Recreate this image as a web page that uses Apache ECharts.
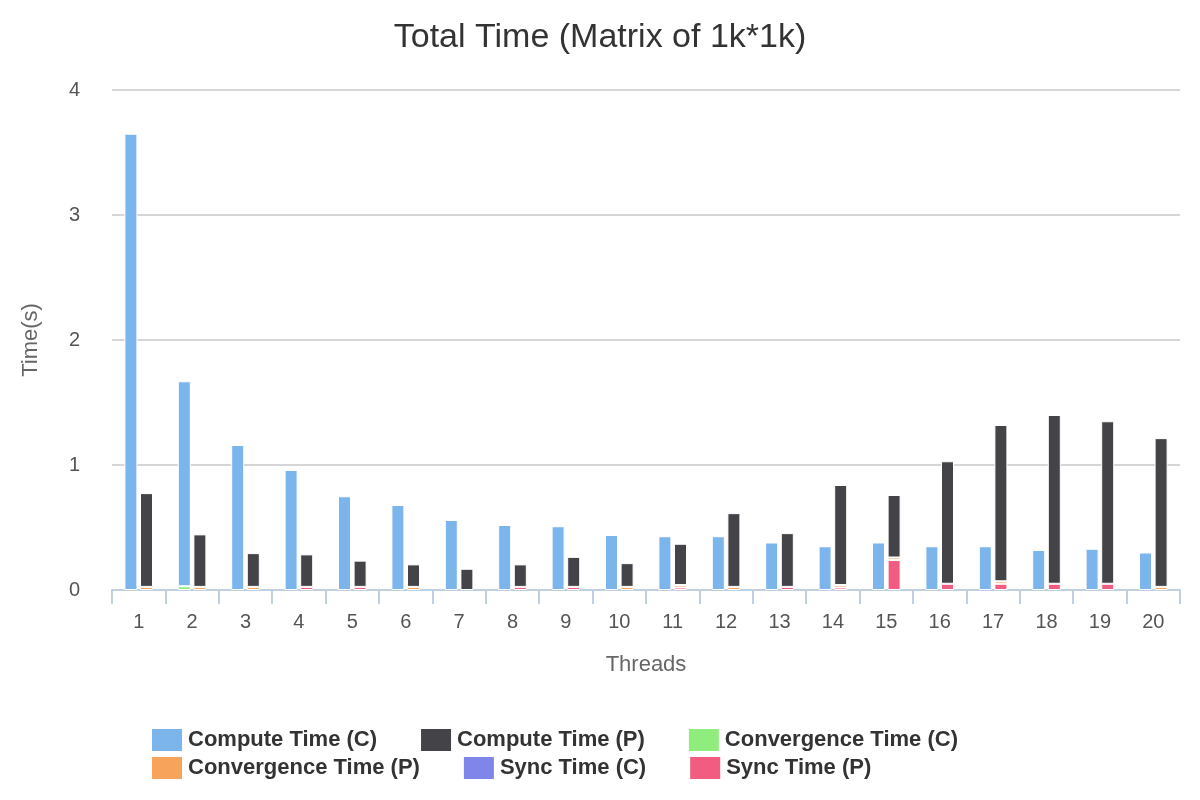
<!DOCTYPE html>
<html style="height: 100%">
<head>
    <meta charset="utf-8">
    <script src="https://cdn.jsdelivr.net/npm/echarts@6/dist/echarts.min.js"></script>
    <title>Total Time</title>
</head>
<body style="height: 100%; margin: 0; background: #fff">
<div id="container" style="width: 1200px; height: 800px"></div>
<script>
    let threads = ['1','2','3','4','5','6','7','8','9','10','11','12','13','14','15','16','17','18','19','20'];
    let computeC = [3.65, 1.64, 1.16, 0.96, 0.75, 0.68, 0.56, 0.52, 0.51, 0.44, 0.43, 0.43, 0.38, 0.35, 0.38, 0.35, 0.35, 0.32, 0.33, 0.30];
    let convC    = ['-', 0.03, '-', '-', '-', '-', '-', '-', '-', '-', '-', '-', '-', '-', '-', '-', '-', '-', '-', '-'];
    let syncC    = ['-', '-', '-', '-', '-', '-', '-', '-', '-', '-', '-', '-', '-', '-', '-', '-', '-', '-', '-', '-'];
    let computeP = [0.75, 0.42, 0.27, 0.26, 0.21, 0.18, 0.17, 0.18, 0.24, 0.19, 0.33, 0.59, 0.43, 0.80, 0.50, 0.98, 1.25, 1.35, 1.30, 1.19];
    let convP    = [0.025, 0.025, 0.025, '-', '-', 0.025, '-', '-', '-', 0.025, 0.02, 0.025, '-', 0.02, 0.02, '-', 0.02, '-', '-', 0.025];
    let syncP    = ['-', '-', '-', 0.025, 0.025, '-', '-', 0.025, 0.025, '-', 0.02, '-', 0.025, 0.02, 0.24, 0.05, 0.05, 0.05, 0.05, '-'];

    let colors = ['#7cb5ec', '#434348', '#90ed7d', '#f7a35c', '#8085e9', '#f15c80'];
    let font = 'Liberation Sans';
    let bar = { type: 'bar', barWidth: 13, barGap: '20%', itemStyle: { borderColor: '#fff', borderWidth: 1 } };
    let legendBase = {
        left: 145, itemWidth: 32, itemHeight: 24, itemGap: 42, icon: 'rect',
        textStyle: { fontSize: 22, fontWeight: 'bold', color: '#333', fontFamily: font }
    };

    let myChart = echarts.init(document.getElementById('container'));
    let option = {
        color: colors,
        textStyle: { fontFamily: font },
        title: {
            text: 'Total Time (Matrix of 1k*1k)',
            left: 'center', top: 16,
            textStyle: { fontSize: 34, fontWeight: 'normal', color: '#333', fontFamily: font }
        },
        grid: { left: 112, right: 20, top: 90, bottom: 210 },
        legend: [
            Object.assign({}, legendBase, { top: 722, data: ['Compute Time (C)', 'Compute Time (P)', 'Convergence Time (C)'] }),
            Object.assign({}, legendBase, { top: 750, data: ['Convergence Time (P)', 'Sync Time (C)', 'Sync Time (P)'] })
        ],
        xAxis: {
            type: 'category', data: threads,
            name: 'Threads', nameLocation: 'middle', nameGap: 64,
            nameTextStyle: { fontSize: 22, color: '#666' },
            axisLine: { lineStyle: { color: '#c0d0e0', width: 2 } },
            axisTick: { show: true, alignWithLabel: false, length: 14, lineStyle: { color: '#c0d0e0', width: 2 } },
            axisLabel: { fontSize: 20, color: '#555', margin: 22 }
        },
        yAxis: {
            type: 'value', min: 0, max: 4, interval: 1,
            name: 'Time(s)', nameLocation: 'middle', nameGap: 70, nameRotate: 90,
            nameTextStyle: { fontSize: 22, color: '#666' },
            axisLabel: { fontSize: 20, color: '#555', margin: 32 },
            splitLine: { lineStyle: { color: '#c8c8c8', width: 1.5 } }
        },
        series: [
            Object.assign({}, bar, { name: 'Sync Time (C)', stack: 'C', data: syncC, itemStyle: Object.assign({}, bar.itemStyle, { color: colors[4] }) }),
            Object.assign({}, bar, { name: 'Convergence Time (C)', stack: 'C', data: convC, itemStyle: Object.assign({}, bar.itemStyle, { color: colors[2] }) }),
            Object.assign({}, bar, { name: 'Compute Time (C)', stack: 'C', data: computeC, itemStyle: Object.assign({}, bar.itemStyle, { color: colors[0] }) }),
            Object.assign({}, bar, { name: 'Sync Time (P)', stack: 'P', data: syncP, itemStyle: Object.assign({}, bar.itemStyle, { color: colors[5] }) }),
            Object.assign({}, bar, { name: 'Convergence Time (P)', stack: 'P', data: convP, itemStyle: Object.assign({}, bar.itemStyle, { color: colors[3] }) }),
            Object.assign({}, bar, { name: 'Compute Time (P)', stack: 'P', data: computeP, itemStyle: Object.assign({}, bar.itemStyle, { color: colors[1] }) })
        ]
    };
    myChart.setOption(option);
</script>
</body>
</html>
